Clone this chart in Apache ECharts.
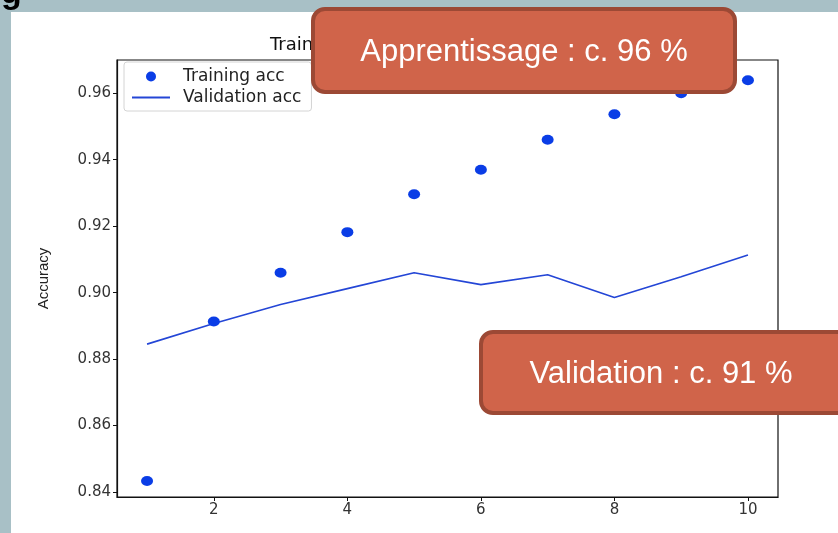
<!DOCTYPE html>
<html>
<head>
<meta charset="utf-8">
<script src="https://cdn.jsdelivr.net/npm/echarts@6/dist/echarts.min.js"></script>
<style>
html,body{margin:0;padding:0;background:#a8c0c6;}
#chart{width:838px;height:533px;}
</style>
</head>
<body>
<div id="chart"></div>
<script>
// Data
var epochs = [1, 2, 3, 4, 5, 6, 7, 8, 9, 10];
var trainingAcc = [0.8433, 0.8913, 0.9060, 0.9182, 0.9296, 0.9370, 0.9460, 0.9537, 0.9600, 0.9639];
var validationAcc = [0.8845, 0.8907, 0.8964, 0.9012, 0.9060, 0.9024, 0.9054, 0.8985, 0.9048, 0.9113];
var xTicks = [2, 4, 6, 8, 10];
var yTicks = [0.84, 0.86, 0.88, 0.90, 0.92, 0.94, 0.96];
var chartTitle = 'Training and validation accuracy';
var yName = 'Accuracy';
var seriesNames = ['Training acc', 'Validation acc'];
var callouts = ['Apprentissage : c. 96 %', 'Validation : c. 91 %'];

var chart = echarts.init(document.getElementById('chart'));
var tickFont = 'DejaVu Sans';
var boxFill = '#d0644a';
var boxStroke = '#9c4935';
var dotColor = '#0a3de6';
var lineColor = '#2446d6';

function pairs(xs, ys) { return xs.map(function (x, i) { return [x, ys[i]]; }); }

var option = {
  backgroundColor: '#a8c0c6',
  animation: false,
  title: {
    text: chartTitle,
    left: 265, top: 31,
    textStyle: { fontFamily: tickFont, fontSize: 18, fontWeight: 'normal', color: '#111' }
  },
  grid: { left: 117, right: 60, top: 60, bottom: 36, show: true, borderColor: '#111', borderWidth: 1.2, backgroundColor: '#fff' },
  legend: {
    orient: 'vertical', left: 124, top: 62,
    padding: [6, 10, 5, 8], itemGap: 4, itemWidth: 38, itemHeight: 10,
    backgroundColor: 'rgba(255,255,255,0.85)', borderColor: '#d4d4d4', borderWidth: 1, borderRadius: 3,
    textStyle: { fontFamily: tickFont, fontSize: 17, color: '#222', padding: [0, 0, 0, 8] },
    data: [
      { name: seriesNames[0], icon: 'circle', itemStyle: { color: dotColor, opacity: 1 } },
      { name: seriesNames[1], icon: 'path://M0,0 L38,0 L38,2.2 L0,2.2 Z', itemStyle: { color: lineColor } }
    ]
  },
  xAxis: {
    type: 'value', min: 0.55, max: 10.45,
    axisLine: { show: true, onZero: false, lineStyle: { color: '#111', width: 1.2 } },
    axisTick: { show: true, length: 4, customValues: xTicks, lineStyle: { color: '#111' } },
    axisLabel: { customValues: xTicks, fontFamily: tickFont, fontSize: 15, color: '#333', margin: 6 },
    splitLine: { show: false }
  },
  yAxis: {
    type: 'value', min: 0.8385, max: 0.9700,
    name: yName, nameLocation: 'middle', nameGap: 66, nameRotate: 90,
    nameTextStyle: { fontFamily: 'Liberation Sans Narrow, Liberation Sans', fontSize: 15, color: '#222' },
    axisLine: { show: true, onZero: false, lineStyle: { color: '#111', width: 1.2 } },
    axisTick: { show: true, length: 4, customValues: yTicks, lineStyle: { color: '#111' } },
    axisLabel: { customValues: yTicks, fontFamily: tickFont, fontSize: 15, color: '#333', margin: 6,
      formatter: function (v) { return v.toFixed(2); } },
    splitLine: { show: false }
  },
  series: [
    {
      name: seriesNames[0], type: 'scatter', data: pairs(epochs, trainingAcc),
      symbol: 'circle', symbolSize: [12, 10],
      itemStyle: { color: dotColor, opacity: 1 }, z: 3
    },
    {
      name: seriesNames[1], type: 'line', data: pairs(epochs, validationAcc),
      symbol: 'none', lineStyle: { color: lineColor, width: 1.6 },
      itemStyle: { color: lineColor }, z: 2
    }
  ],
  graphic: [
    { type: 'rect', shape: { x: 11, y: 12, width: 827, height: 521 }, style: { fill: '#ffffff' }, z: -10, silent: true },
    { type: 'text', x: 1, y: -23, style: { text: 'g', font: 'bold 34px "Liberation Sans"', fill: '#000', verticalAlign: 'top' }, z: -11, silent: true },
    { type: 'group', z: 100, children: [
      { type: 'rect', shape: { x: 313, y: 9, width: 422, height: 83, r: 12 }, style: { fill: boxFill, stroke: boxStroke, lineWidth: 4 }, z: 100 },
      { type: 'text', x: 524, y: 52, style: { text: callouts[0], font: '31px "Liberation Sans"', fill: '#fff', align: 'center', verticalAlign: 'middle' }, z: 101 },
      { type: 'rect', shape: { x: 481, y: 332, width: 380, height: 81, r: 12 }, style: { fill: boxFill, stroke: boxStroke, lineWidth: 4 }, z: 100 },
      { type: 'text', x: 661, y: 374, style: { text: callouts[1], font: '31px "Liberation Sans"', fill: '#fff', align: 'center', verticalAlign: 'middle' }, z: 101 }
    ]}
  ]
};
chart.setOption(option);
</script>
</body>
</html>
